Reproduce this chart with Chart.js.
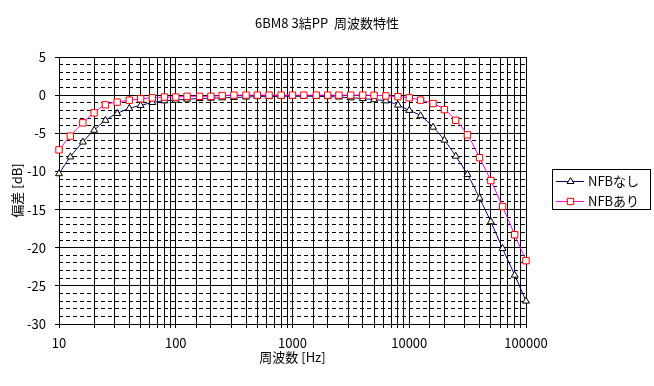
<!DOCTYPE html>
<html>
<head>
<meta charset="utf-8">
<style>
  html, body { margin: 0; padding: 0; background: #fff; }
  #wrap { width: 654px; height: 386px; }
</style>
<script src="https://cdn.jsdelivr.net/npm/chart.js@4/dist/chart.umd.min.js"></script>
</head>
<body>
<div id="wrap"><canvas id="freqChart"></canvas></div>
<script>
const freqs = [10, 12.5, 16, 20, 25, 31.5, 40, 50, 63, 80,
  100, 125, 160, 200, 250, 315, 400, 500, 630, 800,
  1000, 1250, 1600, 2000, 2500, 3150, 4000, 5000, 6300, 8000,
  10000, 12500, 16000, 20000, 25000, 31500, 40000, 50000, 63000, 80000,
  100000, 125000];

const nfbOff = [-10.3, -8.1, -6.15, -4.6, -3.3, -2.4, -1.75, -1.35, -0.97, -0.75,
  -0.65, -0.53, -0.45, -0.4, -0.35, -0.3, -0.25, -0.2, -0.2, -0.15,
  -0.15, -0.15, -0.15, -0.2, -0.25, -0.35, -0.45, -0.6, -0.75, -1.3,
  -2.0, -2.7, -4.2, -5.9, -8.0, -10.4, -13.5, -16.6, -20.1, -23.6,
  -27.0, -30.6];

const nfbOn = [-7.17, -5.37, -3.63, -2.32, -1.27, -0.92, -0.66, -0.48, -0.35, -0.25,
  -0.25, -0.15, -0.15, -0.15, -0.05, 0, 0, 0, 0, 0,
  0, 0, 0, 0, 0, 0, 0, -0.02, -0.1, -0.2,
  -0.35, -0.65, -1.1, -1.9, -3.3, -5.2, -8.2, -11.2, -14.6, -18.3,
  -21.7, -25.4];

const seriesNames = ['NFBなし', 'NFBあり'];
const yTicks = { min: -30, max: 5, major: 5, minor: 1 };
const xRange = { min: 10, max: 100000 };

const FONT = "'Noto Sans CJK JP', sans-serif";
Chart.defaults.color = '#000';
Chart.defaults.font.family = FONT;
Chart.defaults.font.size = 13;

const toPoints = (vals) => freqs.map((f, i) => ({ x: f, y: vals[i] }));

// Excel-like legend: boxed, line with marker in the middle
const boxLegend = {
  id: 'boxLegend',
  afterDraw(chart) {
    const ctx = chart.ctx;
    ctx.save();
    ctx.strokeStyle = '#000';
    ctx.lineWidth = 1;
    ctx.strokeRect(552.5, 169.5, 98, 40);
    const rows = [chart.data.datasets[0], chart.data.datasets[1]];
    rows.forEach((ds, i) => {
      const y = 181 + i * 20;
      ctx.strokeStyle = ds.borderColor;
      ctx.beginPath();
      ctx.moveTo(556, y + 0.5);
      ctx.lineTo(584, y + 0.5);
      ctx.stroke();
      ctx.fillStyle = ds.pointBackgroundColor;
      ctx.strokeStyle = ds.pointBorderColor;
      Chart.helpers.drawPoint(ctx, {
        pointStyle: ds.pointStyle, radius: ds.pointRadius, rotation: 0, borderWidth: 1
      }, 570.5, y + 0.5);
      ctx.fillStyle = '#000';
      ctx.font = '13px ' + FONT;
      ctx.textBaseline = 'middle';
      ctx.fillText(ds.label, 588, y);
    });
    ctx.restore();
  }
};

new Chart(document.getElementById('freqChart'), {
  type: 'scatter',
  data: {
    datasets: [
      {
        label: seriesNames[0],
        data: toPoints(nfbOff),
        showLine: true,
        borderColor: '#000080',
        borderWidth: 1,
        pointStyle: 'triangle',
        pointRadius: 4,
        pointBorderColor: '#000',
        pointBackgroundColor: '#fff',
        pointBorderWidth: 1,
        tension: 0.4,
        clip: { left: 5, top: 5, right: 5, bottom: 5 },
        order: 2
      },
      {
        label: seriesNames[1],
        data: toPoints(nfbOn),
        showLine: true,
        borderColor: '#ff00ff',
        borderWidth: 1,
        pointStyle: 'rect',
        pointRadius: 4.5,
        pointBorderColor: '#ff0000',
        pointBackgroundColor: '#fff',
        pointBorderWidth: 1,
        tension: 0.4,
        clip: { left: 5, top: 5, right: 5, bottom: 5 },
        order: 1
      }
    ]
  },
  options: {
    responsive: true,
    maintainAspectRatio: false,
    animation: false,
    events: [],
    layout: { padding: 0 },
    plugins: {
      legend: { display: false },
      tooltip: { enabled: false },
      title: {
        display: true,
        text: '6BM8 3結PP  周波数特性',
        color: '#000',
        font: { size: 13, weight: 'normal' },
        padding: { top: 15, bottom: 26.4 }
      }
    },
    scales: {
      x: {
        type: 'logarithmic',
        min: xRange.min,
        max: xRange.max,
        border: { color: '#000' },
        grid: { color: '#000', lineWidth: 1, tickLength: 4 },
        ticks: {
          autoSkip: false,
          maxRotation: 0,
          padding: 7,
          callback: (v) => {
            const l = Math.log10(v);
            return Math.abs(l - Math.round(l)) < 1e-9 ? String(v) : '';
          }
        },
        title: {
          display: true,
          text: '周波数 [Hz]',
          font: { size: 13 },
          padding: { top: 0, bottom: 21 }
        },
        afterFit: (s) => { s.height = 62; }
      },
      y: {
        position: 'left',
        min: yTicks.min,
        max: yTicks.max,
        border: { color: '#000' },
        grid: { color: '#000', lineWidth: 1, tickLength: 4 },
        ticks: { stepSize: yTicks.major, padding: 9 },
        title: {
          display: true,
          text: '偏差 [dB]',
          font: { size: 13 },
          padding: { top: 9, bottom: 0 }
        },
        afterFit: (s) => { s.width = 59; }
      },
      yMinor: {
        position: 'left',
        min: yTicks.min,
        max: yTicks.max,
        border: { display: false, dash: [4, 3] },
        grid: { color: '#000', lineWidth: 1, tickLength: 3 },
        ticks: { stepSize: yTicks.minor, display: false },
        afterFit: (s) => { s.width = 0; }
      },
      // empty right-hand strip that leaves room for the legend box
      legendSpace: {
        position: 'right',
        min: yTicks.min,
        max: yTicks.max,
        border: { display: false },
        grid: { display: false },
        ticks: { display: false },
        afterFit: (s) => { s.width = 128; }
      }
    }
  },
  plugins: [boxLegend]
});
</script>
</body>
</html>
